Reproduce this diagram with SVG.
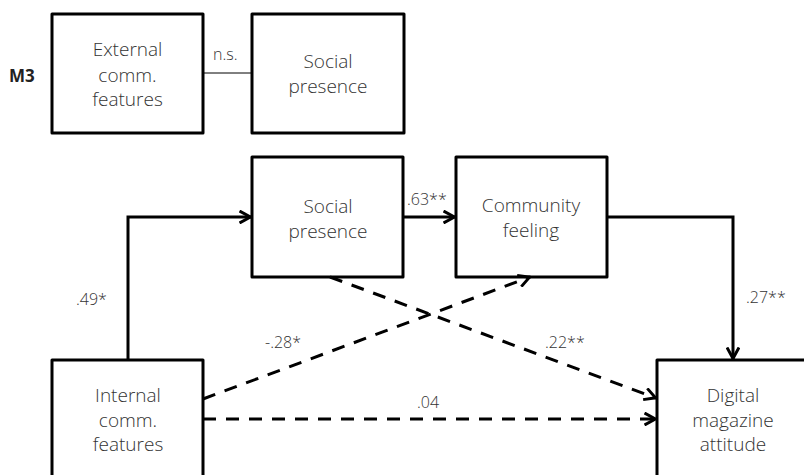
<svg xmlns="http://www.w3.org/2000/svg" width="804" height="475" viewBox="0 0 804 475">
<style>
.box{fill:#fff;stroke:#000;stroke-width:3;stroke-linejoin:round}
.t{font-family:"Open Sans","Noto Sans","Liberation Sans",sans-serif;font-size:19px;font-weight:300;fill:#333;text-anchor:middle}
.l{font-family:"Open Sans","Noto Sans","Liberation Sans",sans-serif;font-size:16px;font-weight:300;fill:#333}
.c{fill:none;stroke:#000;stroke-width:3}
.d{stroke-dasharray:13 10}
</style>
<defs>
<marker id="a" viewBox="0 0 14 14" refX="12.5" refY="7" markerWidth="14" markerHeight="14" orient="auto" markerUnits="userSpaceOnUse">
<path d="M1,1 L12,7 L1,13" fill="none" stroke="#000" stroke-width="3"/>
</marker>
</defs>
<rect width="804" height="475" fill="#fff"/>
<text x="9" y="82" font-family="Open Sans, Noto Sans, Liberation Sans, sans-serif" font-size="17" font-weight="bold" fill="#222">M3</text>
<g id="external">
<rect class="box" x="52" y="14" width="151" height="119"/>
<text class="t" x="127.5" y="56">External</text>
<text class="t" x="127.5" y="82">comm.</text>
<text class="t" x="127.5" y="106">features</text>
</g>
<g id="social-top">
<rect class="box" x="252" y="14" width="152" height="119"/>
<text class="t" x="328" y="68">Social</text>
<text class="t" x="328" y="93">presence</text>
</g>
<g id="social">
<rect class="box" x="252" y="157" width="151" height="120"/>
<text class="t" x="328" y="213">Social</text>
<text class="t" x="328" y="238">presence</text>
</g>
<g id="community">
<rect class="box" x="456" y="157" width="151" height="120"/>
<text class="t" x="531" y="212">Community</text>
<text class="t" x="531" y="237">feeling</text>
</g>
<g id="internal">
<rect class="box" x="52" y="360" width="151" height="125"/>
<text class="t" x="128" y="402">Internal</text>
<text class="t" x="128" y="427">comm.</text>
<text class="t" x="128" y="451">features</text>
</g>
<g id="digital">
<rect class="box" x="657" y="360" width="152" height="125"/>
<text class="t" x="733" y="402">Digital</text>
<text class="t" x="733" y="427">magazine</text>
<text class="t" x="733" y="451">attitude</text>
</g>
<g id="connectors">
<line x1="203" y1="73" x2="252" y2="73" stroke="#000" stroke-width="1"/>
<path class="c" d="M128,360 V217 H251" marker-end="url(#a)"/>
<path class="c" d="M403,217 H455" marker-end="url(#a)"/>
<path class="c" d="M607,217 H733 V359" marker-end="url(#a)"/>
<path class="c d" d="M203,399 L530,277" marker-end="url(#a)"/>
<path class="c d" d="M330,277 L656,398" marker-end="url(#a)"/>
<path class="c d" d="M203,419 H656" marker-end="url(#a)"/>
<text class="l" x="213" y="60">n.s.</text>
<text class="l" x="76" y="305">.49*</text>
<text class="l" x="407" y="205">.63**</text>
<text class="l" x="746" y="303">.27**</text>
<text class="l" x="265" y="348">-.28*</text>
<text class="l" x="545" y="348">.22**</text>
<text class="l" x="417" y="408">.04</text>
</g>
</svg>
